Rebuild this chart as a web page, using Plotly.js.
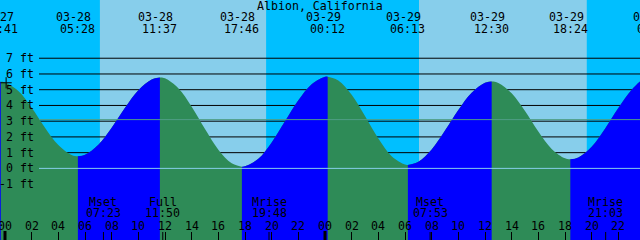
<!DOCTYPE html>
<html>
<head>
<meta charset="utf-8">
<script src="https://cdn.plot.ly/plotly-3.0.1.min.js"></script>
<style>html,body{margin:0;padding:0;background:#00BFFF;}#chart{width:640px;height:240px;}</style>
</head>
<body>
<div id="chart"></div>
<script>
// ---- data ----
const stationTitle = "Albion, California";
// tide extremes (high / low), local time
const extremeTimes = ["03-27 23:41","03-28 05:28","03-28 11:37","03-28 17:46","03-29 00:12","03-29 06:13","03-29 12:30","03-29 18:24","03-30 00:42"];
const extremeFeet  = [5.50, 0.77, 5.77, 0.11, 5.83, 0.22, 5.52, 0.58, 5.90];
// hourly tide heights (hours since 03-28 00:00)
const hourTimes = [-1,0,1,2,3,4,5,6,7,8,9,10,11,12,13,14,15,16,17,18,19,20,21,22,23,24,25,26,27,28,29,30,31,32,33,34,35,36,37,38,39,40,41,42,43,44,45,46,47,48];
const hourFeet  = [5.33,5.46,4.92,3.86,2.59,1.48,0.85,0.86,1.50,2.59,3.85,4.97,5.65,5.72,5.09,3.92,2.50,1.19,0.32,0.13,0.61,1.65,2.99,4.33,5.35,5.82,5.59,4.68,3.33,1.90,0.77,0.24,0.42,1.20,2.40,3.71,4.81,5.44,5.43,4.77,3.64,2.34,1.24,0.64,0.70,1.38,2.52,3.83,5.00,5.74];
// sun (day bands)
const sunriseTimes = ["03-28 07:07","03-29 07:03"];
const sunsetTimes  = ["03-28 19:35","03-29 19:38"];
// moon events
const moonTimes  = ["03-28 07:23","03-28 11:50","03-28 19:48","03-29 07:53","03-29 21:03"];
const moonLabels = ["Mset","Full","Mrise","Mset","Mrise"];
// current time marker
const nowTime = "03-28 00:05";
const nowFeet = 5.44;
// axis ticks
const hourTicks = [0,2,4,6,8,10,12,14,16,18,20,22,24,26,28,30,32,34,36,38,40,42,44,46];
const midnightTicks = [0,24];
const feetTicks = [-1,0,1,2,3,4,5,6,7];
const meanLevelFeet = 3.1;

// ---- helpers ----
function hrs(s){
  const parts = s.split(' ');
  const day = +parts[0].split('-')[1];
  const hm = parts[1].split(':').map(Number);
  return (day-28)*24 + hm[0] + hm[1]/60;
}
const XR = [-0.375, 47.625];
const YR = [-4.55, 10.70];
const BASE = -6;
const FONT = 'DejaVu Sans Mono, monospace';
const FS = 11.6;
const C_NIGHT = '#00BFFF', C_DAY = '#87CEEB', C_RISE = '#0000FF', C_FALL = '#2E8B57';
function py(pxFromTop){ return 1 - pxFromTop/240; }

// merge samples
const exX = extremeTimes.map(hrs);
let pts = hourTimes.map((t,i)=>({x:t,y:hourFeet[i],ex:false}));
exX.forEach((t,i)=>pts.push({x:t,y:extremeFeet[i],ex:true}));
pts.sort((a,b)=>a.x-b.x);

const traces = [];
// full curve filled with falling colour
traces.push({x:pts.map(p=>p.x), y:pts.map(()=>BASE), mode:'lines', line:{width:0}, hoverinfo:'skip'});
traces.push({x:pts.map(p=>p.x), y:pts.map(p=>p.y), mode:'lines', line:{width:0, shape:'spline', smoothing:1, color:C_FALL}, fill:'tonexty', fillcolor:C_FALL, hoverinfo:'skip'});
// rising segments
const exIdx = pts.map((p,i)=>p.ex?i:-1).filter(i=>i>=0);
const bounds = [0].concat(exIdx).concat([pts.length-1]);
for(let k=0;k<bounds.length-1;k++){
  const a=bounds[k], b=bounds[k+1];
  if(b<=a) continue;
  const seg = pts.slice(a,b+1);
  if(seg[seg.length-1].y > seg[0].y){
    traces.push({x:seg.map(p=>p.x), y:seg.map(()=>BASE), mode:'lines', line:{width:0}, hoverinfo:'skip'});
    traces.push({x:seg.map(p=>p.x), y:seg.map(p=>p.y), mode:'lines', line:{width:0, shape:'spline', smoothing:1, color:C_RISE}, fill:'tonexty', fillcolor:C_RISE, hoverinfo:'skip'});
  }
}
// current-time marker
traces.push({x:[hrs(nowTime)], y:[nowFeet], mode:'markers', marker:{symbol:'cross-thin', size:8, line:{color:'#000', width:1}}, hoverinfo:'skip'});

// shapes
const shapes = [];
sunriseTimes.forEach((s,i)=>{
  shapes.push({type:'rect', xref:'x', yref:'paper', x0:hrs(s), x1:hrs(sunsetTimes[i]), y0:0, y1:1, fillcolor:C_DAY, line:{width:0}, layer:'below'});
});
const gx0 = 39/640;
feetTicks.filter(v=>v>=1).forEach(v=>{
  shapes.push({type:'line', xref:'paper', yref:'y', x0:gx0, x1:1, y0:v, y1:v, line:{color:'#000', width:1}, layer:'below'});
});
shapes.push({type:'line', xref:'paper', yref:'y', x0:gx0, x1:1, y0:0, y1:0, line:{color:C_DAY, width:1}, layer:'above'});
shapes.push({type:'line', xref:'paper', yref:'y', x0:gx0, x1:1, y0:meanLevelFeet, y1:meanLevelFeet, line:{color:'#4F9E86', width:1}, layer:'above'});
moonTimes.forEach(s=>{
  const t=hrs(s);
  shapes.push({type:'line', xref:'x', yref:'paper', x0:t, x1:t, y0:0, y1:8/240, line:{color:'#000', width:1}, layer:'above'});
});
midnightTicks.forEach(t=>{
  shapes.push({type:'line', xref:'x', yref:'paper', x0:t, x1:t, y0:0, y1:9/240, line:{color:'#000', width:3}, layer:'above'});
});

// annotations
const ann = [];
function xpos(t){
  if(t>=XR[0] && t<=XR[1]) return {x:t, xref:'x'};
  return {x:(t-XR[0])/(XR[1]-XR[0]), xref:'paper'};
}
function txt(o){ return Object.assign({showarrow:false, font:{family:FONT, size:FS, color:'#000'}, xanchor:'center', yanchor:'middle'}, o); }
ann.push(txt({x:0.5, xref:'paper', yref:'paper', y:py(6), text:stationTitle}));
extremeTimes.forEach((s,i)=>{
  const p = xpos(hrs(s));
  const parts = s.split(' ');
  ann.push(txt(Object.assign({yref:'paper', y:py(17.5), text:parts[0], xshift:-4}, p)));
  ann.push(txt(Object.assign({yref:'paper', y:py(29), text:parts[1]}, p)));
});
moonTimes.forEach((s,i)=>{
  const p = xpos(hrs(s));
  ann.push(txt(Object.assign({yref:'paper', y:py(202), text:moonLabels[i]}, p)));
  ann.push(txt(Object.assign({yref:'paper', y:py(213.3), text:s.split(' ')[1]}, p)));
});
hourTicks.forEach(h=>{
  ann.push(txt({x:h, xref:'x', yref:'paper', y:py(225.5), text:String(h%24).padStart(2,'0')}));
});
feetTicks.forEach(v=>{
  ann.push(txt({x:36/640, xref:'paper', xanchor:'right', y:v, yref:'y', text:v+' ft'}));
});

const layout = {
  width:640, height:240, margin:{l:0,r:0,t:0,b:0,pad:0},
  paper_bgcolor:C_NIGHT, plot_bgcolor:C_NIGHT, showlegend:false,
  xaxis:{range:XR, showgrid:false, zeroline:false, showline:false, ticks:'inside', ticklen:8, tickwidth:1, tickcolor:'#000', tickvals:hourTicks, showticklabels:false, fixedrange:true},
  yaxis:{range:YR, showgrid:false, zeroline:false, showline:false, showticklabels:false, ticks:'', fixedrange:true},
  shapes:shapes, annotations:ann,
  font:{family:FONT, size:FS, color:'#000'}
};
Plotly.newPlot('chart', traces, layout, {staticPlot:true, displayModeBar:false});
</script>
</body>
</html>
